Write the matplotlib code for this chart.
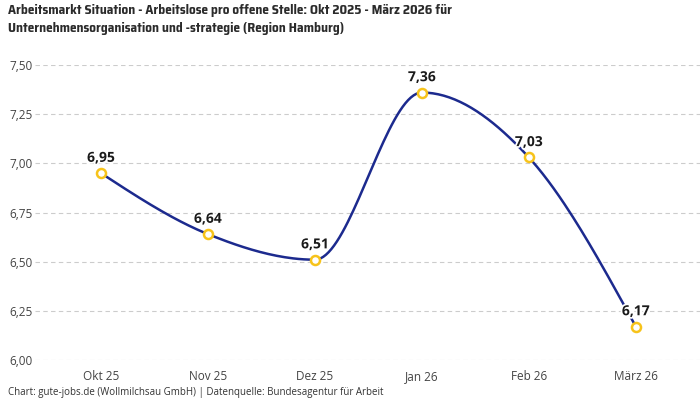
import matplotlib
matplotlib.use("Agg")
import matplotlib.pyplot as plt
import matplotlib.patheffects as pe
from matplotlib import font_manager
import numpy as np

categories = ["Okt 25", "Nov 25", "Dez 25", "Jan 26", "Feb 26", "März 26"]
values = [6.95, 6.64, 6.51, 7.36, 7.03, 6.17]
value_labels = ["6,95", "6,64", "6,51", "7,36", "7,03", "6,17"]
yticks = [6.00, 6.25, 6.50, 6.75, 7.00, 7.25, 7.50]
ytick_labels = ["6,00", "6,25", "6,50", "6,75", "7,00", "7,25", "7,50"]
title_lines = ["Arbeitsmarkt Situation - Arbeitslose pro offene Stelle: Okt 2025 - März 2026 für",
               "Unternehmensorganisation und -strategie (Region Hamburg)"]
footer = "Chart: gute-jobs.de (Wollmilchsau GmbH) | Datenquelle: Bundesagentur für Arbeit"


def monotone_x(x, y, n=40):
    x = np.asarray(x, float); y = np.asarray(y, float)
    h = np.diff(x); s = np.diff(y) / h
    t = np.zeros(len(x))
    for i in range(1, len(x) - 1):
        h0, h1 = h[i - 1], h[i]
        s0, s1 = s[i - 1], s[i]
        p = (s0 * h1 + s1 * h0) / (h0 + h1)
        t[i] = (np.sign(s0) + np.sign(s1)) * min(abs(s0), abs(s1), 0.5 * abs(p))
    t[0] = (3 * s[0] - t[1]) / 2
    t[-1] = (3 * s[-1] - t[-2]) / 2
    xs, ys = [], []
    for i in range(len(x) - 1):
        dx = h[i] / 3
        P0 = (x[i], y[i]); P1 = (x[i] + dx, y[i] + dx * t[i])
        P2 = (x[i + 1] - dx, y[i + 1] - dx * t[i + 1]); P3 = (x[i + 1], y[i + 1])
        u = np.linspace(0, 1, n)
        bx = (1-u)**3*P0[0] + 3*(1-u)**2*u*P1[0] + 3*(1-u)*u**2*P2[0] + u**3*P3[0]
        by = (1-u)**3*P0[1] + 3*(1-u)**2*u*P1[1] + 3*(1-u)*u**2*P2[1] + u**3*P3[1]
        xs.extend(bx); ys.extend(by)
    return np.array(xs), np.array(ys)


# pick a condensed face for the title: prefer semi-condensed, semibold/bold
def _w(f):
    w = f.weight
    if isinstance(w, str):
        return 700 if "bold" in w.lower() else 400
    return w

def _is_cond(f):
    return ("Condensed" in f.name or "Narrow" in f.name
            or (isinstance(f.stretch, str) and "condensed" in f.stretch))

entries = [f for f in font_manager.fontManager.ttflist if _is_cond(f) and f.style == "normal"]
title_effects = None
if entries:
    def score(f):
        semi = 0 if ("SemiCondensed" in f.name or f.stretch == "semi-condensed") else 1
        return (semi, abs(_w(f) - 650), f.name)
    fe = sorted(entries, key=score)[0]
    title_prop = font_manager.FontProperties(fname=fe.fname, size=11.5)
    if _w(fe) < 600:
        title_effects = [pe.withStroke(linewidth=0.8, foreground="#2b2b2b")]
else:
    title_prop = font_manager.FontProperties(family=["Roboto", "DejaVu Sans"],
                                             weight="bold", size=10)

plt.rcParams['font.family'] = ['Open Sans', 'DejaVu Sans']

fig = plt.figure(figsize=(7, 4), dpi=100)
ax = fig.add_axes([0.05, 0.10, 0.95, 0.7375])

xi = np.arange(len(categories))
sx, sy = monotone_x(xi, values)
ax.plot(sx, sy, color="#1c2a8e", lw=1.8, zorder=3, solid_capstyle="round")
ax.plot(xi, values, "o", ms=6.5, mfc="white", mec="#f7c31a", mew=1.8, zorder=4)

for x, v, lab in zip(xi, values, value_labels):
    ax.annotate(lab, (x, v), xytext=(0, 6), textcoords="offset points",
                ha="center", va="bottom", fontsize=10, fontweight="bold",
                color="#1a1a1a", zorder=5,
                path_effects=[pe.withStroke(linewidth=2.5, foreground="white")])

ax.set_xlim(-0.617, 5.6)
ax.set_ylim(6.0, 7.5)
ax.set_xticks(xi)
ax.set_xticklabels(categories, fontsize=8.5, color="#444444")
ax.set_yticks(yticks)
ax.set_yticklabels(ytick_labels, fontsize=8.5, color="#444444")
ax.tick_params(axis="both", length=0)
ax.tick_params(axis="x", pad=7)
ax.tick_params(axis="y", pad=2)
for s in ax.spines.values():
    s.set_visible(False)
ax.grid(axis="y", color="#cccccc", linestyle=(0, (4, 3)), lw=0.8)
ax.set_axisbelow(True)

# fit title size so that the first line is ~445 px wide, as in the reference
probe = fig.text(0, 0, title_lines[0], fontproperties=title_prop)
renderer = fig.canvas.get_renderer()
wpx = probe.get_window_extent(renderer).width
probe.remove()
title_prop.set_size(title_prop.get_size() * 445.0 / wpx)

fig.text(0.012, 0.99, "\n".join(title_lines), ha="left", va="top", fontproperties=title_prop,
         color="#2b2b2b", linespacing=1.5, path_effects=title_effects)
fig.text(0.012, 0.0175, footer, ha="left", va="center", fontsize=7, color="#333333")

fig.savefig("out.png", dpi=100)
